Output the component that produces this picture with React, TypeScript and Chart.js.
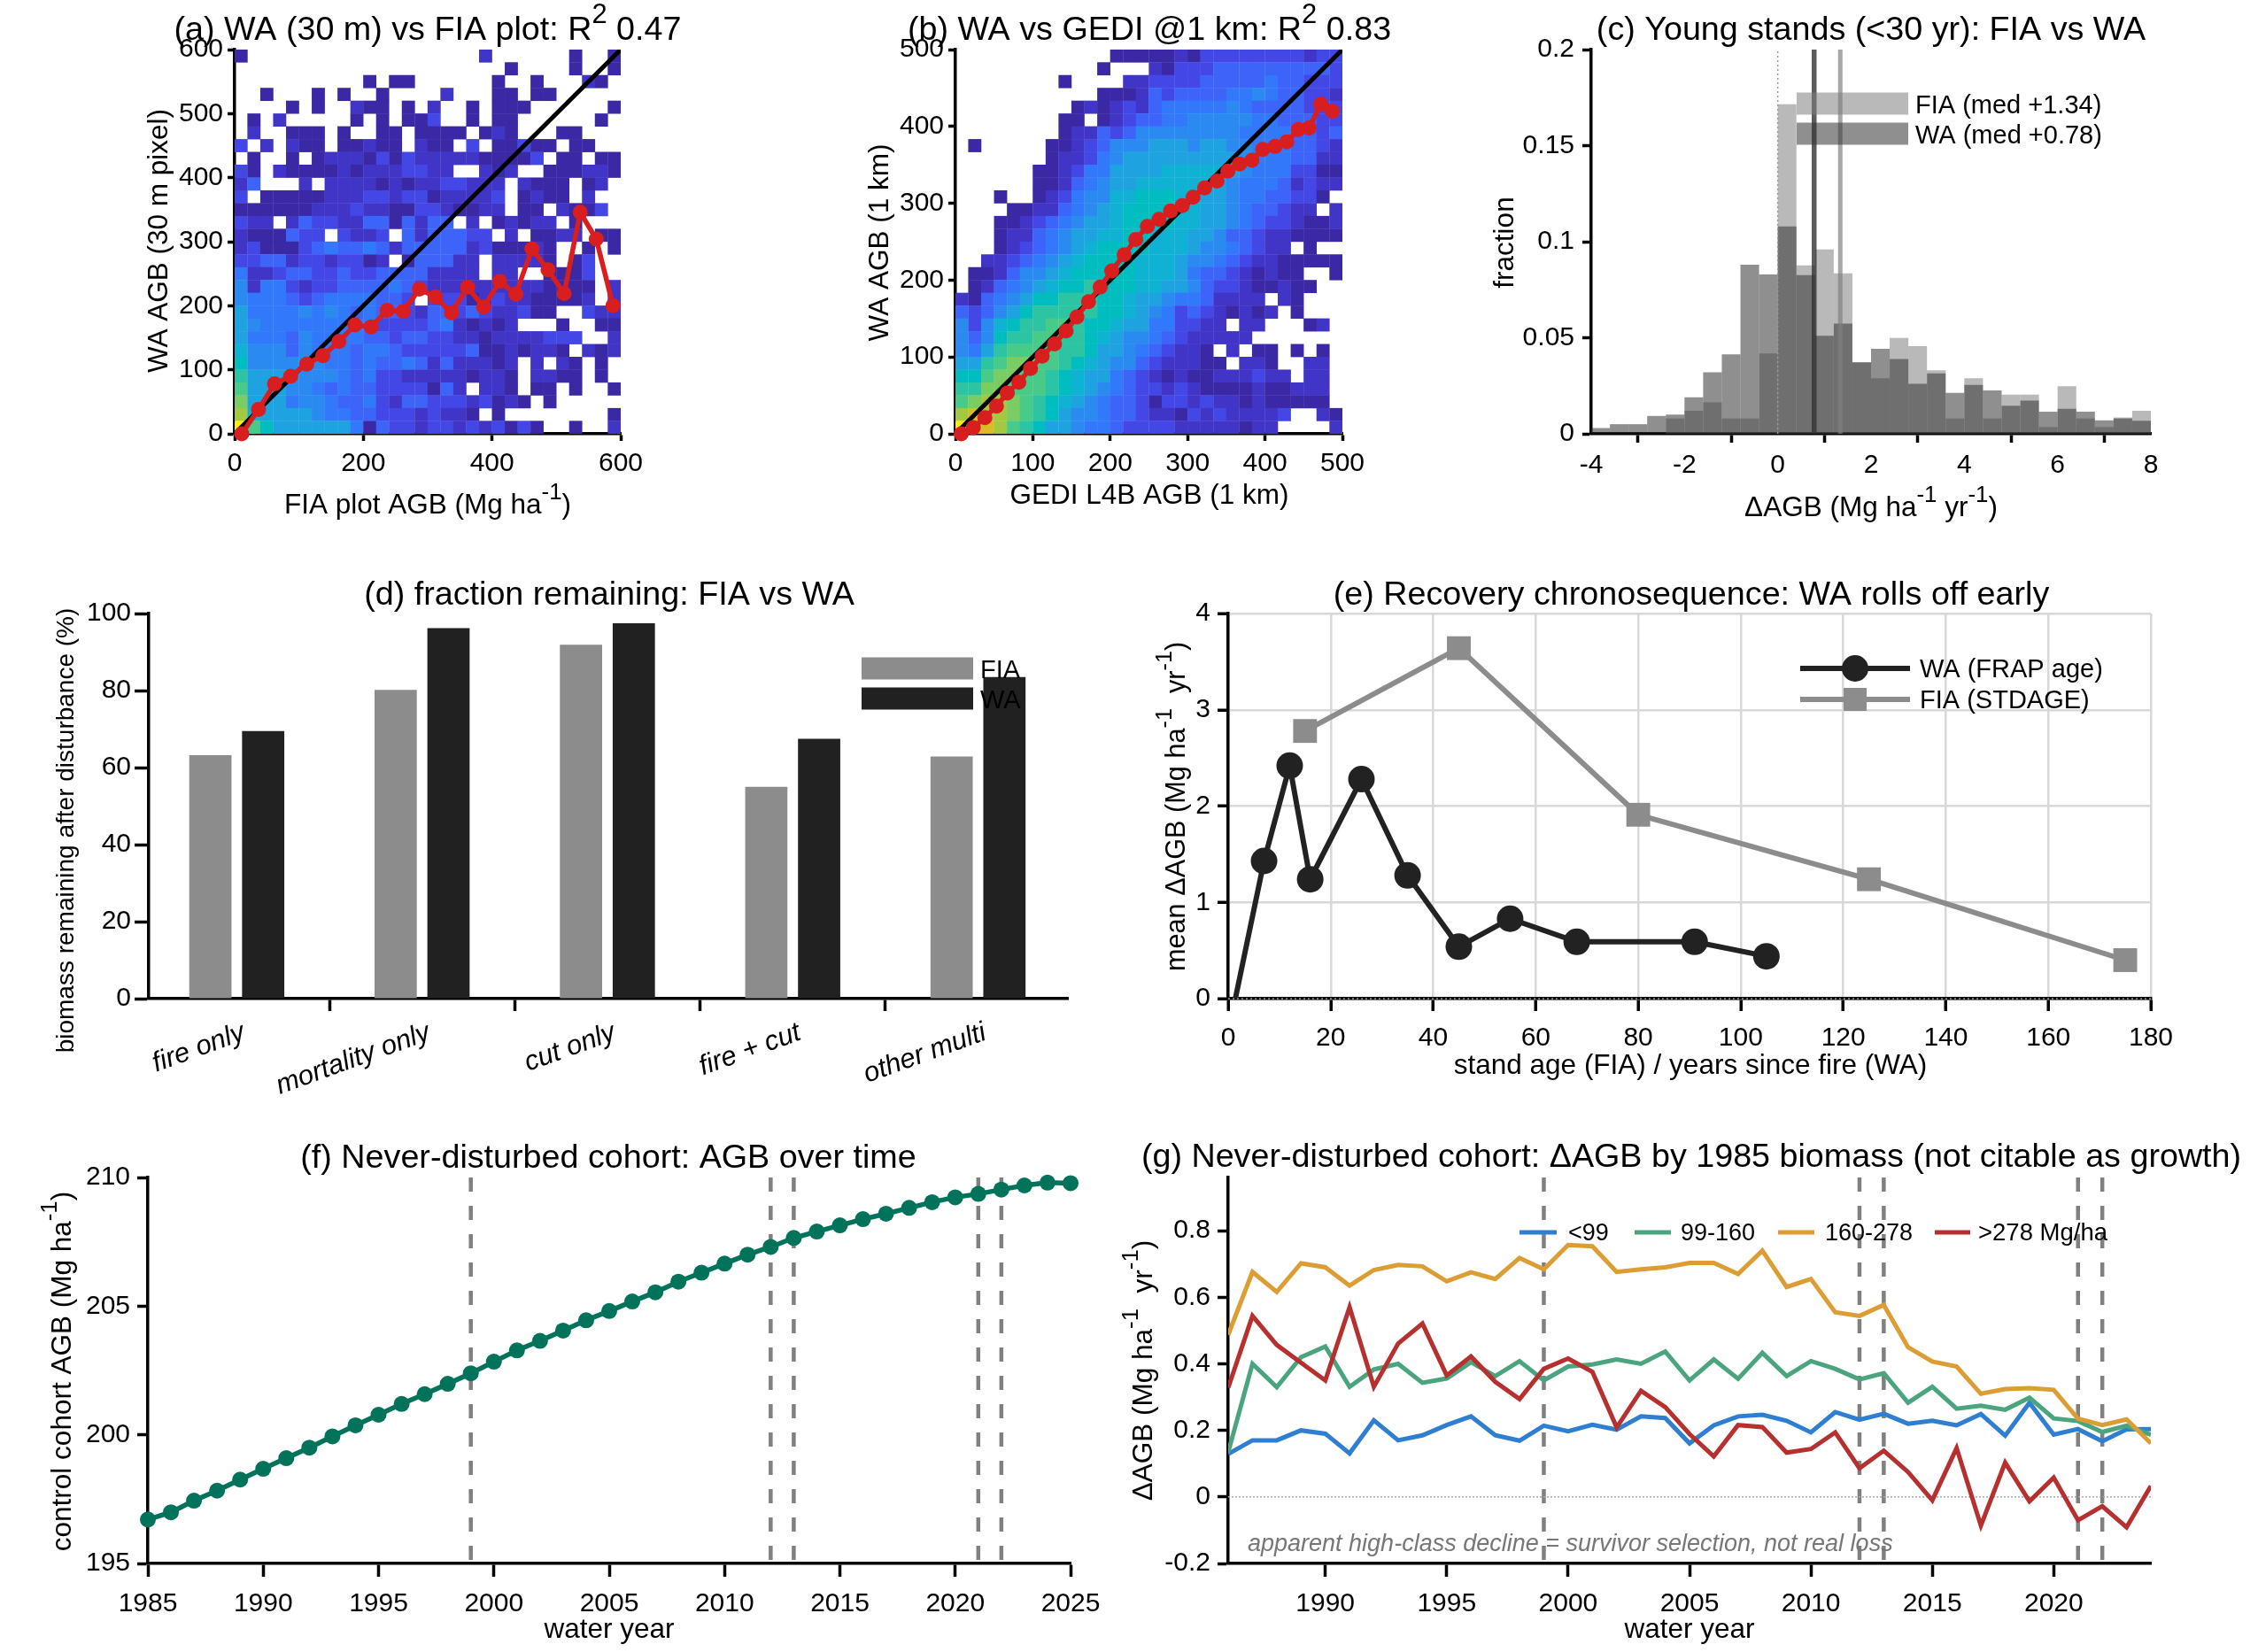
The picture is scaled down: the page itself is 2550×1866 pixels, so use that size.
import React, { useEffect, useRef } from "react";
import { Chart, registerables } from "chart.js";

Chart.register(...registerables);

const PAGE_W = 2550;
const PAGE_H = 1866;
const FONT = "Liberation Sans";

// heatmap (a): colour level per 20 Mg/ha bin, top row first ('.' = empty)
const HEAT_A_ROWS = [
  "1.... ..... ..... ....2 ..... .1..1",
  "..... ..... ..... ..... .1... .1..1",
  "..... ..... 1.11. ..... 1..1. ..21.",
  "..1.. .1.1. .1... .2... 11.11 .....",
  "....1 .1..2 11.1. 2..1. 111.. ....1",
  ".1.2. ....1 .1.11 3..1. 11... ...1.",
  ".2..1 11.1. .11.1 111.1 21... 11...",
  "3.2.2 11.11 211.2 11.3. 11311 .11..",
  ".1..1 .1222 13132 22221 1113. 11.11",
  "31.21 11121 22233 22..2 12..1 11221",
  "24... 2.222 21212 23322 2.211 1.12.",
  "3.111 11222 33233 12222 3.121 1.2..",
  "11111 12223 22113 32112 2.11. 2113.",
  "322.2 43322 44142 44.2. 12122 .1...",
  "21114 33.32 23.42 44433 .2.11 22.11",
  "23111 34544 54244 44423 11121 ..1.1",
  "33442 33233 12.14 4422. 22221 .13..",
  "52234 43343 34444 2222. 22..1 113..",
  "62553 23344 44543 22222 22221 111.2",
  "65554 34555 5443. 33312 32211 112.2",
  "75555 65654 54432 44343 22311 ..322",
  "76555 55555 53333 45212 12... 1..11",
  "75554 65555 44344 33221 22223 33..2",
  "86664 65554 55433 33341 12122 1.212",
  "96666 66554 54454 24222 12.2. 21.1.",
  "A7776 66654 53322 22212 21.22 11.1.",
  "B7776 65454 43333 142.2 21.11 .1..1",
  "C7775 66544 53244 33323 121.1 .....",
  "D8777 76554 43332 3221. 1.... ....1",
  "FB977 77775 14332 33232 3131. .1..2",
];

// heatmap (b): same coding, 16.67 Mg/ha bins
const HEAT_B_ROWS = [
  "..... ..... ..111 11213 33333 33233",
  "..... ..... .1... 21333 44444 44443",
  "..... ...1. ...22 33334 44445 44333",
  "..... ..... .1112 43444 45565 44332",
  "..... ....1 21232 45555 56544 44333",
  "..... ...11 .1234 45566 66655 44433",
  "..... ...12 24346 66666 66555 54434",
  ".1... ..112 34666 77767 76655 54432",
  "..... ..122 35677 77777 77655 54422",
  "..... .1123 55777 78888 87655 53311",
  "..... .1124 56778 88888 76555 42322",
  "...1. .1235 66889 99887 76554 4331.",
  "....1 12245 67899 99887 76544 322.2",
  "...11 23456 77899 99887 76543 32112",
  "...12 24567 78899 88877 64432 21111",
  "...12 34567 89999 88876 65432 2.1..",
  "..223 45678 99998 88766 54322 11111",
  ".1124 66789 99998 88754 43212 11..1",
  ".1245 67899 A9998 87764 33211 211..",
  "21456 799AA A9987 76554 2222. 21...",
  "43467 9AAAA A9987 65343 21212 .1...",
  "63689 AABBA 99877 55332 2.22. ..12.",
  "6469A ABBAA 98766 54322 222.. .....",
  "657AB BBBAA 97765 43221 .2.11 .1.1.",
  "77ABC CBBA9 87664 32221 1.221 ..22.",
  "99BCC BBA98 77543 21211 22232 2.22.",
  "AACCB BBA98 76543 32321 11121 1222.",
  "BCDDC BA987 65443 13323 22121 1111.",
  "DEDDC BA976 65443 22132 32222 3..21",
  "FEEDB A9776 55433 33222 22122 ....2",
];

const BIN_MEAN_A_X = [11, 37, 62, 87, 112, 137, 162, 187, 212, 237, 262, 287, 312, 337, 362, 387, 412, 437, 462, 487, 512, 537, 562, 588];
const BIN_MEAN_A_Y = [0, 38, 78, 90, 109, 122, 144, 170, 167, 193, 191, 226, 214, 189, 229, 198, 238, 218, 289, 256, 219, 346, 304, 200];
const BIN_MEAN_B_X = [7.5, 23, 38, 53, 67, 82, 97, 112, 128, 143, 157, 172, 187, 202, 218, 233, 248, 263, 278, 293, 307, 322, 338, 352, 367, 383, 397, 413, 428, 443, 457, 472, 487];
const BIN_MEAN_B_Y = [0, 8, 21, 36, 53, 67, 85, 101, 117, 134, 152, 172, 191, 212, 233, 253, 270, 279, 290, 297, 308, 320, 329, 342, 351, 356, 370, 374, 380, 396, 398, 429, 420];

// (c) histogram, bins 0.4 wide starting at -4
const HIST_START = -4;
const HIST_STEP = 0.4;
const HIST_FIA = [0, 0, 0, 0, 0.008, 0.012, 0.0164, 0.008, 0.008, 0.0418, 0.1716, 0.0877, 0.096, 0.0835, 0.0372, 0.0289, 0.0499, 0.0456, 0.0331, 0.008, 0.0289, 0.008, 0.0204, 0.0204, 0.0035, 0.0248, 0.008, 0.0035, 0.0085, 0.012];
const HIST_WA = [0.003, 0.005, 0.005, 0.0093, 0.01, 0.019, 0.032, 0.0414, 0.088, 0.083, 0.108, 0.0826, 0.051, 0.0574, 0.0372, 0.0442, 0.0389, 0.026, 0.0314, 0.0213, 0.0255, 0.0226, 0.0146, 0.0173, 0.0115, 0.013, 0.0115, 0.007, 0.008, 0.0068];
const MEDIAN_FIA = 1.34;
const MEDIAN_WA = 0.78;

// (d)
const DISTURBANCES = ["fire only", "mortality only", "cut only", "fire + cut", "other multi"];
const REMAIN_FIA = [63.2, 80.2, 91.9, 55, 62.9];
const REMAIN_WA = [69.5, 96.2, 97.5, 67.5, 83.5];

// (e)
const RECOVERY_WA_X = [1.4, 7, 12, 16, 26, 35, 45, 55, 68, 91, 105];
const RECOVERY_WA_Y = [0, 1.43, 2.42, 1.24, 2.28, 1.28, 0.54, 0.83, 0.59, 0.59, 0.44];
const RECOVERY_FIA_X = [15, 45, 80, 125, 175];
const RECOVERY_FIA_Y = [2.78, 3.64, 1.91, 1.24, 0.4];

// (f)
const COHORT_START = 1985;
const COHORT_AGB = [196.71, 196.99, 197.44, 197.83, 198.26, 198.68, 199.09, 199.5, 199.94, 200.37, 200.78, 201.2, 201.58, 201.98, 202.39, 202.84, 203.28, 203.65, 204.05, 204.45, 204.81, 205.18, 205.54, 205.95, 206.3, 206.65, 207.0, 207.3, 207.65, 207.9, 208.14, 208.38, 208.59, 208.82, 209.04, 209.23, 209.36, 209.53, 209.69, 209.8, 209.78];
const DROUGHT_YEARS = [1999, 2012, 2013, 2021, 2022];

// (g) 1986-2024
const CLASS_START = 1986;
const CLASS_LOW = [0.129, 0.17, 0.17, 0.2, 0.19, 0.131, 0.23, 0.17, 0.185, 0.216, 0.242, 0.185, 0.169, 0.214, 0.197, 0.217, 0.202, 0.242, 0.237, 0.161, 0.215, 0.242, 0.247, 0.229, 0.194, 0.255, 0.232, 0.25, 0.22, 0.229, 0.215, 0.249, 0.184, 0.283, 0.187, 0.204, 0.167, 0.203, 0.204];
const CLASS_MID = [0.134, 0.4, 0.33, 0.42, 0.452, 0.331, 0.383, 0.4, 0.343, 0.356, 0.405, 0.363, 0.408, 0.35, 0.392, 0.398, 0.413, 0.4, 0.437, 0.35, 0.413, 0.355, 0.433, 0.363, 0.408, 0.385, 0.353, 0.372, 0.283, 0.331, 0.265, 0.274, 0.262, 0.298, 0.236, 0.228, 0.195, 0.214, 0.187];
const CLASS_HIGH = [0.487, 0.676, 0.616, 0.702, 0.69, 0.635, 0.682, 0.697, 0.693, 0.648, 0.675, 0.655, 0.718, 0.684, 0.757, 0.753, 0.676, 0.684, 0.69, 0.703, 0.703, 0.67, 0.74, 0.631, 0.655, 0.555, 0.544, 0.577, 0.45, 0.407, 0.392, 0.31, 0.324, 0.327, 0.322, 0.235, 0.216, 0.233, 0.161];
const CLASS_TOP = [0.328, 0.544, 0.457, 0.403, 0.35, 0.57, 0.331, 0.461, 0.521, 0.365, 0.422, 0.346, 0.294, 0.385, 0.416, 0.376, 0.209, 0.319, 0.27, 0.189, 0.122, 0.216, 0.21, 0.133, 0.144, 0.194, 0.086, 0.139, 0.075, -0.01, 0.147, -0.086, 0.103, -0.013, 0.058, -0.07, -0.028, -0.091, 0.033];

const LEVEL_COLORS = ["#3B28A4", "#4035C6", "#4347E6", "#3D64F8", "#3278FA", "#2A8AF0", "#1FA3E0", "#10B2D4", "#00BDC0", "#2CC4A2", "#48CA88", "#7ACD62", "#A4C840", "#D8BC28", "#FFF000"];

const BLUE = "#2E7FD1";
const GREEN = "#4AA57F";
const ORANGE = "#DC9E34";
const RED = "#B5302F";
const TEAL = "#00735A";
const MARK_RED = "#D81E1E";

type Label = { text: string; x: number; y: number; size?: number; rotate?: number; align?: string; italic?: boolean; color?: string };
type Key = { x: number; y: number; w: number; h?: number; color: string; lineWidth?: number; marker?: string; mx?: number; size?: number };
type Box = { l: number; t: number; r: number; b: number };

// text with ^{...} runs for the superscripts
function drawRich(ctx: CanvasRenderingContext2D, lab: Label) {
  const size = lab.size ?? 31.5;
  const style = lab.italic ? "italic " : "";
  const parts = lab.text.split(/(\^\{[^}]*\})/).filter(Boolean).map((p) => {
    const sup = p.startsWith("^{");
    return { sup, str: sup ? p.slice(2, -1) : p };
  });
  const setFont = (sup: boolean) => {
    ctx.font = `${style}${sup ? size * 0.82 : size}px "${FONT}"`;
  };
  let width = 0;
  parts.forEach((p) => {
    setFont(p.sup);
    width += ctx.measureText(p.str).width;
  });
  ctx.save();
  ctx.translate(lab.x, lab.y);
  if (lab.rotate) ctx.rotate((lab.rotate * Math.PI) / 180);
  ctx.fillStyle = lab.color ?? "#000";
  ctx.textBaseline = "alphabetic";
  ctx.textAlign = "left";
  let cx = lab.align === "left" ? 0 : -width / 2;
  parts.forEach((p) => {
    setFont(p.sup);
    ctx.fillText(p.str, cx, p.sup ? -size * 0.5 : 0);
    cx += ctx.measureText(p.str).width;
  });
  ctx.restore();
}

function overlay(labels: Label[], keys: Key[] = []) {
  return {
    id: "overlay",
    afterDraw(chart: any) {
      const ctx = chart.ctx as CanvasRenderingContext2D;
      keys.forEach((k) => {
        ctx.save();
        ctx.fillStyle = k.color;
        ctx.strokeStyle = k.color;
        if (k.h) {
          ctx.fillRect(k.x, k.y - k.h / 2, k.w, k.h);
        } else {
          ctx.lineWidth = k.lineWidth ?? 4;
          ctx.beginPath();
          ctx.moveTo(k.x, k.y);
          ctx.lineTo(k.x + k.w, k.y);
          ctx.stroke();
          if (k.marker === "circle") {
            ctx.beginPath();
            ctx.arc(k.mx!, k.y, k.size!, 0, Math.PI * 2);
            ctx.fill();
          } else if (k.marker === "rect") {
            ctx.fillRect(k.mx! - k.size!, k.y - k.size!, k.size! * 2, k.size! * 2);
          }
        }
        ctx.restore();
      });
      labels.forEach((l) => drawRich(ctx, l));
    },
  };
}

const zip = (xs: number[], ys: number[]) => xs.map((x, i) => ({ x, y: ys[i] }));
const years = (start: number, ys: number[]) => ys.map((y, i) => ({ x: start + i, y }));

function heatDataset(rows: string[], step: number) {
  const points: { x: number; y: number }[] = [];
  const colors: string[] = [];
  rows.forEach((row, r) => {
    row.replace(/ /g, "").split("").forEach((ch, c) => {
      if (ch === ".") return;
      points.push({ x: (c + 0.5) * step, y: (rows.length - 1 - r + 0.5) * step });
      colors.push(LEVEL_COLORS[parseInt(ch, 16) - 1]);
    });
  });
  return {
    data: points,
    pointStyle: "rect",
    pointRadius: 10.5,
    pointBorderWidth: 0,
    pointBackgroundColor: colors,
    showLine: false,
    order: 5,
  };
}

function line(data: any[], color: string, width: number, extra: any = {}) {
  return { type: "line", data, borderColor: color, borderWidth: width, pointRadius: 0, fill: false, tension: 0, ...extra };
}

function markedLine(data: any[], color: string, width: number, radius: number, extra: any = {}) {
  return line(data, color, width, { pointRadius: radius, pointBackgroundColor: color, pointBorderWidth: 0, clip: false, ...extra });
}

function axis(min: number, max: number, step: number, tickLen: number, pad: number, extra: any = {}) {
  const { ticks, grid, ...rest } = extra;
  return {
    type: "linear",
    min,
    max,
    offset: false,
    border: { color: "#000", width: 3.5 },
    grid: { drawOnChartArea: false, tickLength: tickLen, tickWidth: 3.5, tickColor: "#000", ...grid },
    ticks: {
      stepSize: step,
      padding: pad,
      color: "#000",
      autoSkip: false,
      maxRotation: 0,
      includeBounds: false,
      font: { family: FONT, size: 30 },
      callback: (v: number) => String(v),
      ...ticks,
    },
    ...rest,
  };
}

// the axes take the whole margin so the plot box lands exactly on p
function baseOptions(p: Box, x: any, y: any) {
  return {
    responsive: false,
    animation: false,
    devicePixelRatio: 1,
    layout: { padding: { left: 0, top: p.t, right: PAGE_W - p.r, bottom: 0 } },
    plugins: { legend: { display: false }, tooltip: { enabled: false }, title: { display: false } },
    events: [],
    scales: {
      x: { ...x, afterFit: (s: any) => { s.height = PAGE_H - p.b; } },
      y: { ...y, afterFit: (s: any) => { s.width = p.l; } },
    },
  };
}

function droughtLines(low: number, high: number) {
  return DROUGHT_YEARS.map((yr) =>
    line([{ x: yr, y: high }, { x: yr, y: low }], "#808080", 4.5, { borderDash: [16, 16], order: 8 })
  );
}

const histData = (vals: number[]) => vals.map((y, i) => ({ x: HIST_START + (i + 0.5) * HIST_STEP, y }));
const histBar = (vals: number[], color: string, order: number) => ({
  type: "bar",
  data: histData(vals),
  backgroundColor: color,
  grouped: false,
  barPercentage: 1,
  categoryPercentage: 1,
  inflateAmount: 0,
  order,
});

const T = 37.7; // title size

const PANELS: any[] = [
  {
    type: "scatter",
    data: {
      datasets: [
        markedLine(zip(BIN_MEAN_A_X, BIN_MEAN_A_Y), MARK_RED, 5.5, 8.5, { order: 1 }),
        line([{ x: 0, y: 0 }, { x: 600, y: 600 }], "#000", 5, { order: 2 }),
        heatDataset(HEAT_A_ROWS, 20),
      ],
    },
    options: baseOptions({ l: 265, t: 56, r: 701, b: 490 }, axis(0, 600, 200, 8, 8), axis(0, 600, 100, 8, 5)),
    plugins: [
      overlay([
        { text: "(a) WA (30 m) vs FIA plot: R^{2} 0.47", x: 483, y: 45, size: T },
        { text: "FIA plot AGB (Mg ha^{-1})", x: 483, y: 580 },
        { text: "WA AGB (30 m pixel)", x: 189, y: 272, rotate: -90 },
      ]),
    ],
  },
  {
    type: "scatter",
    data: {
      datasets: [
        markedLine(zip(BIN_MEAN_B_X, BIN_MEAN_B_Y), MARK_RED, 5.5, 8.5, { order: 1 }),
        line([{ x: 0, y: 0 }, { x: 500, y: 500 }], "#000", 5, { order: 2 }),
        heatDataset(HEAT_B_ROWS, 500 / 30),
      ],
    },
    options: baseOptions({ l: 1079, t: 56, r: 1516, b: 490 }, axis(0, 500, 100, 8, 8), axis(0, 500, 100, 8, 5)),
    plugins: [
      overlay([
        { text: "(b) WA vs GEDI @1 km: R^{2} 0.83", x: 1298, y: 45, size: T },
        { text: "GEDI L4B AGB (1 km)", x: 1298, y: 569 },
        { text: "WA AGB (1 km)", x: 1003, y: 274, rotate: -90 },
      ]),
    ],
  },
  {
    type: "bar",
    data: {
      datasets: [
        line([{ x: 0, y: 0 }, { x: 0, y: 0.2 }], "#999", 1.5, { borderDash: [2, 3], order: 1 }),
        line([{ x: MEDIAN_WA, y: 0 }, { x: MEDIAN_WA, y: 0.2 }], "rgba(51,51,51,0.8)", 5.5, { order: 1 }),
        line([{ x: MEDIAN_FIA, y: 0 }, { x: MEDIAN_FIA, y: 0.2 }], "rgba(128,128,128,0.7)", 5, { order: 1 }),
        histBar(HIST_WA, "rgba(51,51,51,0.55)", 2),
        histBar(HIST_FIA, "rgba(128,128,128,0.55)", 3),
      ],
    },
    options: baseOptions({ l: 1797, t: 56, r: 2429, b: 490 }, axis(-4, 8, 2, 10, 8), axis(0, 0.2, 0.05, 10, 9)),
    plugins: [
      overlay(
        [
          { text: "(c) Young stands (<30 yr): FIA vs WA", x: 2113, y: 45, size: T },
          { text: "\u0394AGB (Mg ha^{-1} yr^{-1})", x: 2113, y: 583 },
          { text: "fraction", x: 1709, y: 274, rotate: -90 },
          { text: "FIA (med +1.34)", x: 2163, y: 128, size: 29, align: "left" },
          { text: "WA (med +0.78)", x: 2163, y: 162, size: 29, align: "left" },
        ],
        [
          { x: 2029, y: 117, w: 126, h: 25, color: "rgba(128,128,128,0.55)" },
          { x: 2029, y: 151, w: 126, h: 25, color: "rgba(51,51,51,0.55)" },
        ]
      ),
    ],
  },
  {
    type: "bar",
    data: {
      datasets: [
        {
          data: DISTURBANCES.map((_, i) => ({ x: i, y: REMAIN_FIA[i] })),
          backgroundColor: "#8C8C8C",
          categoryPercentage: 0.57,
          barPercentage: 0.8,
        },
        {
          data: DISTURBANCES.map((_, i) => ({ x: i, y: REMAIN_WA[i] })),
          backgroundColor: "#212121",
          categoryPercentage: 0.57,
          barPercentage: 0.8,
        },
      ],
    },
    options: baseOptions(
      { l: 168, t: 693, r: 1206, b: 1128 },
      axis(-0.475, 4.485, 1, 14, 6, {
        ticks: {
          maxRotation: 20,
          minRotation: 20,
          labelOffset: 8,
          font: { family: FONT, size: 31, style: "italic" },
          callback: (v: number) => DISTURBANCES[v],
        },
      }),
      axis(0, 100, 20, 16, 4)
    ),
    plugins: [
      overlay(
        [
          { text: "(d) fraction remaining: FIA vs WA", x: 688, y: 683, size: T },
          { text: "biomass remaining after disturbance (%)", x: 83, y: 938, size: 28, rotate: -90 },
          { text: "FIA", x: 1107, y: 766, size: 29, align: "left" },
          { text: "WA", x: 1107, y: 800, size: 29, align: "left" },
        ],
        [
          { x: 973, y: 755, w: 126, h: 25, color: "#8C8C8C" },
          { x: 973, y: 789, w: 126, h: 25, color: "#212121" },
        ]
      ),
    ],
  },
  {
    type: "scatter",
    data: {
      datasets: [
        line([{ x: 0, y: 0 }, { x: 180, y: 0 }], "#999", 1.5, { borderDash: [2, 3], order: 1, clip: false }),
        markedLine(zip(RECOVERY_WA_X, RECOVERY_WA_Y), "#222222", 6, 15, {
          pointRadius: RECOVERY_WA_X.map((_, i) => (i === 0 ? 0 : 15)),
          order: 2,
        }),
        markedLine(zip(RECOVERY_FIA_X, RECOVERY_FIA_Y), "#8C8C8C", 6, 19, { pointStyle: "rect", order: 3 }),
      ],
    },
    options: baseOptions(
      { l: 1387, t: 693, r: 2429, b: 1128 },
      axis(0, 180, 20, 14, 13, { grid: { drawOnChartArea: true, color: "#D8D8D8", lineWidth: 2.5 } }),
      axis(0, 4, 1, 12, 8, { grid: { drawOnChartArea: true, color: "#D8D8D8", lineWidth: 2.5 } })
    ),
    plugins: [
      overlay(
        [
          { text: "(e) Recovery chronosequence: WA rolls off early", x: 1910, y: 683, size: T },
          { text: "stand age (FIA) / years since fire (WA)", x: 1909, y: 1213 },
          { text: "mean \u0394AGB (Mg ha^{-1}  yr^{-1})", x: 1338, y: 911, size: 30.7, rotate: -90 },
          { text: "WA (FRAP age)", x: 2168, y: 765, size: 29, align: "left" },
          { text: "FIA (STDAGE)", x: 2168, y: 800, size: 29, align: "left" },
        ],
        [
          { x: 2033, y: 755, w: 124, color: "#222222", lineWidth: 6, marker: "circle", mx: 2095, size: 15 },
          { x: 2033, y: 790, w: 124, color: "#8C8C8C", lineWidth: 6, marker: "rect", mx: 2095, size: 13 },
        ]
      ),
    ],
  },
  {
    type: "scatter",
    data: {
      datasets: [
        markedLine(years(COHORT_START, COHORT_AGB), TEAL, 5.5, 9, { order: 1 }),
        ...droughtLines(195, 210),
      ],
    },
    options: baseOptions({ l: 167, t: 1330, r: 1209, b: 1766 }, axis(1985, 2025, 5, 15, 13), axis(195, 210, 5, 12, 8)),
    plugins: [
      overlay([
        { text: "(f) Never-disturbed cohort: AGB over time", x: 687, y: 1319, size: T },
        { text: "water year", x: 688, y: 1850 },
        { text: "control cohort AGB (Mg ha^{-1})", x: 80, y: 1549, rotate: -90 },
      ]),
    ],
  },
  {
    type: "scatter",
    data: {
      datasets: [
        line(years(CLASS_START, CLASS_TOP), RED, 5, { order: 1 }),
        line(years(CLASS_START, CLASS_HIGH), ORANGE, 5, { order: 2 }),
        line(years(CLASS_START, CLASS_MID), GREEN, 5, { order: 3 }),
        line(years(CLASS_START, CLASS_LOW), BLUE, 5, { order: 4 }),
        line([{ x: 1986, y: 0 }, { x: 2024, y: 0 }], "#AAAAAA", 1.5, { borderDash: [2, 2], order: 7 }),
        ...droughtLines(-0.2, 0.96),
      ],
    },
    options: baseOptions({ l: 1387, t: 1330, r: 2429, b: 1766 }, axis(1986, 2024, 5, 15, 13), axis(-0.2, 0.96, 0.2, 12, 8)),
    plugins: [
      overlay(
        [
          { text: "(g) Never-disturbed cohort: \u0394AGB by 1985 biomass (not citable as growth)", x: 1910, y: 1318, size: T },
          { text: "water year", x: 1908, y: 1850 },
          { text: "\u0394AGB (Mg ha^{-1}  yr^{-1})", x: 1301, y: 1548, rotate: -90 },
          { text: "<99", x: 1771, y: 1401, size: 27, align: "left" },
          { text: "99-160", x: 1898, y: 1401, size: 27, align: "left" },
          { text: "160-278", x: 2061, y: 1401, size: 27, align: "left" },
          { text: ">278 Mg/ha", x: 2234, y: 1401, size: 27.5, align: "left" },
          { text: "apparent high-class decline = survivor selection, not real loss", x: 1409, y: 1752, size: 27, italic: true, align: "left", color: "#777777" },
        ],
        [
          { x: 1716, y: 1392, w: 42, color: BLUE, lineWidth: 5 },
          { x: 1846, y: 1392, w: 41, color: GREEN, lineWidth: 5 },
          { x: 2008, y: 1392, w: 41, color: ORANGE, lineWidth: 5 },
          { x: 2185, y: 1392, w: 40, color: RED, lineWidth: 5 },
        ]
      ),
    ],
  },
];

function Panel({ config }: { config: any }) {
  const ref = useRef<HTMLCanvasElement | null>(null);
  useEffect(() => {
    if (!ref.current) return;
    const chart = new Chart(ref.current, config);
    return () => chart.destroy();
  }, [config]);
  return (
    <canvas
      ref={ref}
      width={PAGE_W}
      height={PAGE_H}
      style={{ position: "absolute", left: 0, top: 0, width: PAGE_W, height: PAGE_H }}
    />
  );
}

export default function App() {
  return (
    <div style={{ position: "absolute", left: 0, top: 0, width: PAGE_W, height: PAGE_H, background: "#fff", overflow: "hidden" }}>
      {PANELS.map((cfg, i) => (
        <Panel key={i} config={cfg} />
      ))}
    </div>
  );
}
